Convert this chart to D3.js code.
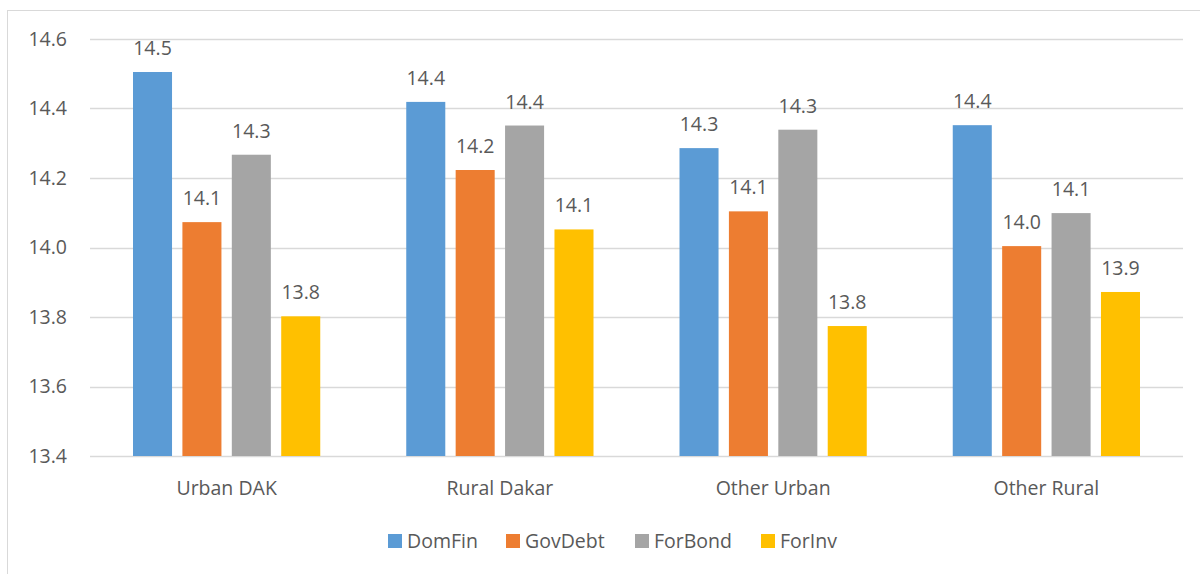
<!DOCTYPE html>
<html>
<head>
<meta charset="utf-8">
<script src="https://cdn.jsdelivr.net/npm/d3@7"></script>
<style>
  body { margin: 0; background: #fff; }
  text { font-family: "Open Sans", Lato, sans-serif; fill: #595959; }
</style>
</head>
<body>
<div id="chart"></div>
<script>
const categories = ["Urban DAK", "Rural Dakar", "Other Urban", "Other Rural"];
const seriesNames = ["DomFin", "GovDebt", "ForBond", "ForInv"];
const domFin = [14.505, 14.419, 14.286, 14.352];
const govDebt = [14.073, 14.223, 14.104, 14.004];
const forBond = [14.267, 14.351, 14.339, 14.099];
const forInv = [13.802, 14.052, 13.774, 13.872];
const yTicks = [13.4, 13.6, 13.8, 14.0, 14.2, 14.4, 14.6];
const colors = ["#5B9BD5", "#ED7D31", "#A5A5A5", "#FFC000"];

const series = [domFin, govDebt, forBond, forInv];
const width = 1200, height = 574;
const margin = { left: 90, right: 17, top: 39, bottom: 118 };
const fontSize = 19.5;

const svg = d3.select("#chart").append("svg")
    .attr("width", width)
    .attr("height", height);

// chart frame
svg.append("rect")
    .attr("x", 7.5).attr("y", 10.5)
    .attr("width", width).attr("height", height)
    .attr("fill", "none")
    .attr("stroke", "#D9D9D9");

const y = d3.scaleLinear()
    .domain([13.4, 14.6])
    .range([height - margin.bottom, margin.top]);

const x0 = d3.scaleBand()
    .domain(categories)
    .range([margin.left, width - margin.right]);

const x1 = d3.scaleBand()
    .domain(seriesNames)
    .range([43, x0.bandwidth() - 43])
    .paddingInner(0.21);

// gridlines
svg.append("g")
    .selectAll("line")
    .data(yTicks)
    .enter().append("line")
    .attr("x1", margin.left)
    .attr("x2", width - margin.right)
    .attr("y1", d => Math.round(y(d)) + 0.5)
    .attr("y2", d => Math.round(y(d)) + 0.5)
    .attr("stroke", "#D9D9D9")
    .attr("stroke-width", 1.5);

// y tick labels
svg.append("g")
    .selectAll("text")
    .data(yTicks)
    .enter().append("text")
    .attr("x", 67)
    .attr("y", d => y(d))
    .attr("dy", "0.35em")
    .attr("text-anchor", "end")
    .attr("font-size", fontSize)
    .text(d => d.toFixed(1));

// bars
const groups = svg.append("g")
    .selectAll("g")
    .data(categories)
    .enter().append("g")
    .attr("transform", d => `translate(${x0(d)},0)`);

groups.selectAll("rect")
    .data((d, i) => seriesNames.map((s, j) => ({ s, v: series[j][i], c: colors[j] })))
    .enter().append("rect")
    .attr("x", d => x1(d.s))
    .attr("width", x1.bandwidth())
    .attr("y", d => y(d.v))
    .attr("height", d => y(13.4) - y(d.v))
    .attr("fill", d => d.c);

groups.selectAll("text")
    .data((d, i) => seriesNames.map((s, j) => ({ s, v: series[j][i] })))
    .enter().append("text")
    .attr("x", d => x1(d.s) + x1.bandwidth() / 2)
    .attr("y", d => y(d.v) - 17)
    .attr("text-anchor", "middle")
    .attr("font-size", fontSize)
    .text(d => d.v.toFixed(1));

// category labels
svg.append("g")
    .selectAll("text")
    .data(categories)
    .enter().append("text")
    .attr("x", d => x0(d) + x0.bandwidth() / 2)
    .attr("y", 488)
    .attr("dy", "0.35em")
    .attr("text-anchor", "middle")
    .attr("font-size", fontSize)
    .text(d => d);

// legend
const legendX = [388, 506, 635, 761];
const legend = svg.append("g")
    .selectAll("g")
    .data(seriesNames)
    .enter().append("g")
    .attr("transform", (d, i) => `translate(${legendX[i]},541)`);

legend.append("rect")
    .attr("x", 0).attr("y", -7)
    .attr("width", 14).attr("height", 14)
    .attr("fill", (d, i) => colors[i]);

legend.append("text")
    .attr("x", 19)
    .attr("dy", "0.35em")
    .attr("font-size", fontSize)
    .text(d => d);
</script>
</body>
</html>
